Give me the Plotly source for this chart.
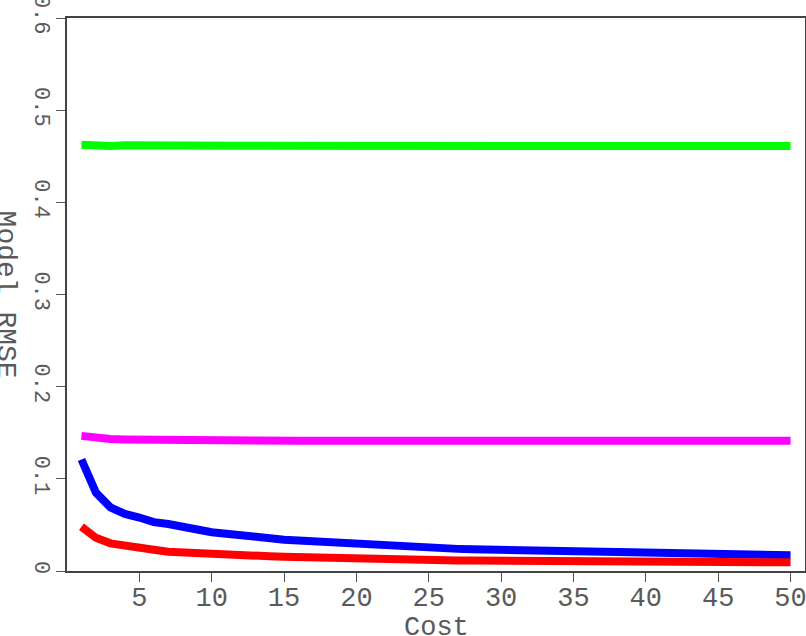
import plotly.graph_objects as go

cost = list(range(1, 51))

green = [0.4625, 0.4610, 0.4612, 0.4618, 0.4615, 0.4614, 0.4613, 0.4612, 0.4610, 0.4610,
         0.4612, 0.4613, 0.4613, 0.4612, 0.4611, 0.4610, 0.4610, 0.4610, 0.4610, 0.4610,
         0.4610, 0.4610, 0.4610, 0.4610, 0.4610, 0.4611, 0.4611, 0.4611, 0.4611, 0.4611,
         0.4611, 0.4611, 0.4611, 0.4611, 0.4611, 0.4611, 0.4611, 0.4611, 0.4611, 0.4611,
         0.4611, 0.4611, 0.4611, 0.4611, 0.4611, 0.4611, 0.4611, 0.4611, 0.4611, 0.4611]

magenta = [0.1466, 0.1440, 0.1432, 0.1428, 0.1425, 0.1422, 0.1420, 0.1418, 0.1416, 0.1415,
           0.1414, 0.1414, 0.1413, 0.1413, 0.1413, 0.1413, 0.1413, 0.1413, 0.1413, 0.1413,
           0.1413, 0.1413, 0.1413, 0.1413, 0.1413, 0.1413, 0.1413, 0.1413, 0.1413, 0.1413,
           0.1413, 0.1413, 0.1413, 0.1413, 0.1413, 0.1413, 0.1413, 0.1413, 0.1413, 0.1413,
           0.1413, 0.1413, 0.1413, 0.1413, 0.1413, 0.1413, 0.1413, 0.1413, 0.1413, 0.1413]

blue = [0.121, 0.085, 0.069, 0.062, 0.058, 0.053, 0.051, 0.049, 0.045, 0.042,
        0.040, 0.038, 0.037, 0.0355, 0.034, 0.033, 0.032, 0.031, 0.030, 0.029,
        0.028, 0.027, 0.026, 0.0255, 0.025, 0.0245, 0.024, 0.0235, 0.023, 0.0228,
        0.0225, 0.0222, 0.0220, 0.0218, 0.0216, 0.0213, 0.0210, 0.0206, 0.0203, 0.0200,
        0.0196, 0.0192, 0.0188, 0.0184, 0.0180, 0.0178, 0.0176, 0.0174, 0.0172, 0.0170]

red = [0.048, 0.036, 0.030, 0.027, 0.025, 0.023, 0.021, 0.020, 0.019, 0.018,
       0.017, 0.0166, 0.0163, 0.0160, 0.0155, 0.0150, 0.0145, 0.0140, 0.0135, 0.0130,
       0.0127, 0.0124, 0.0121, 0.0118, 0.0115, 0.0114, 0.0113, 0.0113, 0.0112, 0.0112,
       0.0111, 0.0110, 0.0108, 0.0106, 0.0105, 0.0104, 0.0103, 0.0102, 0.0101, 0.0101,
       0.0100, 0.0099, 0.0098, 0.0096, 0.0094, 0.0094, 0.0094, 0.0094, 0.0094, 0.0094]

xticks = [5, 10, 15, 20, 25, 30, 35, 40, 45, 50]
yticks = [0, 0.1, 0.2, 0.3, 0.4, 0.5, 0.6]
ytick_text = ["0", "0.1", "0.2", "0.3", "0.4", "0.5", "0.6"]

series = [("green", green, "#00ff00"), ("magenta", magenta, "#ff00ff"),
          ("blue", blue, "#0000ff"), ("red", red, "#ff0000")]

fig = go.Figure()
for name, vals, col in series:
    fig.add_trace(go.Scatter(x=cost, y=vals, mode="lines", name=name,
                             line=dict(color=col, width=8)))

fam = "Liberation Mono"
col_txt = "#5a5a5a"
xfont = dict(family=fam, size=27, color=col_txt)
yfont = dict(family=fam, size=22, color=col_txt)
tfont = dict(family=fam, size=28, color=col_txt)
fig.update_layout(
    width=806, height=636,
    margin=dict(l=67, r=1, t=18, b=65, autoexpand=False),
    paper_bgcolor="white", plot_bgcolor="white",
    showlegend=False,
    xaxis=dict(range=[0, 51], tickvals=xticks, ticks="outside", ticklen=9,
               tickcolor="#555555", showline=True, mirror=True, linecolor="#444444",
               linewidth=1.5, showgrid=False, zeroline=False, tickfont=xfont,
               automargin=False, ticklabeloverflow="allow", ticklabelstandoff=-8),
    yaxis=dict(range=[0, 0.6], tickvals=yticks, ticktext=ytick_text, ticks="outside",
               ticklen=9, tickcolor="#555555", showline=True, mirror=True,
               linecolor="#444444", linewidth=1.5, showgrid=False, zeroline=False,
               tickangle=90, tickfont=yfont, automargin=False,
               ticklabeloverflow="allow", ticklabelstandoff=-5),
    annotations=[
        dict(text="Cost", xref="paper", yref="paper", x=0.5, y=-0.072,
             xanchor="center", yanchor="top", showarrow=False,
             font=dict(family=fam, size=27, color=col_txt)),
        dict(text="Model RMSE", xref="paper", yref="paper", x=-0.0828, y=0.5,
             xanchor="center", yanchor="middle", textangle=90, showarrow=False,
             font=tfont),
    ],
)

fig.write_html("out.html", config={"displayModeBar": False},
               post_script="document.body.style.margin='0';document.body.style.padding='0';")
